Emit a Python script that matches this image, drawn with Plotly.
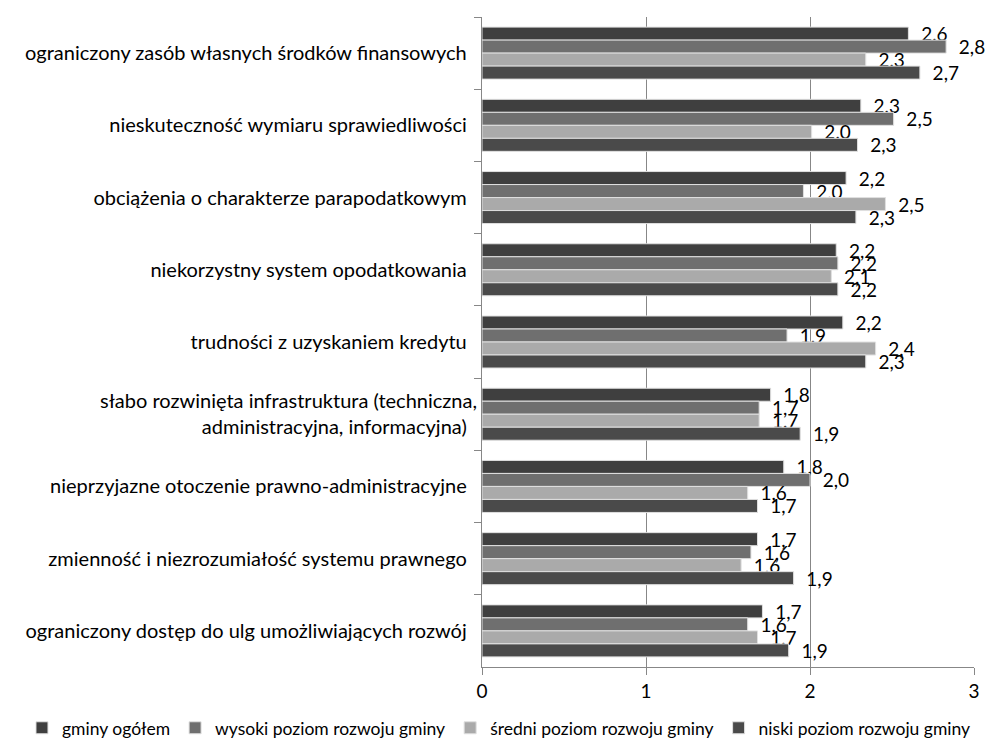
import plotly.graph_objects as go

categories = [
    "ograniczony zasób własnych środków finansowych",
    "nieskuteczność wymiaru sprawiedliwości",
    "obciążenia o charakterze parapodatkowym",
    "niekorzystny system opodatkowania",
    "trudności z uzyskaniem kredytu",
    "słabo rozwinięta infrastruktura (techniczna,<br>administracyjna, informacyjna)",
    "nieprzyjazne otoczenie prawno-administracyjne",
    "zmienność i niezrozumiałość systemu prawnego",
    "ograniczony dostęp do ulg umożliwiających rozwój",
]

series_names = [
    "gminy ogółem",
    "wysoki poziom rozwoju gminy",
    "średni poziom rozwoju gminy",
    "niski poziom rozwoju gminy",
]

ogolem = [2.60, 2.31, 2.22, 2.16, 2.20, 1.76, 1.84, 1.68, 1.71]
wysoki = [2.83, 2.51, 1.96, 2.17, 1.86, 1.69, 2.00, 1.64, 1.62]
sredni = [2.34, 2.01, 2.46, 2.13, 2.40, 1.69, 1.62, 1.58, 1.68]
niski = [2.67, 2.29, 2.28, 2.17, 2.34, 1.94, 1.68, 1.90, 1.87]

colors = ["#3f3f3f", "#6f6f6f", "#aaaaaa", "#4a4a4a"]

FONT = "Lato"

fig = go.Figure()
for name, vals, col in zip(series_names, [ogolem, wysoki, sredni, niski], colors):
    labels = ["\u00a0\u00a0" + f"{v:.1f}".replace(".", ",") for v in vals]
    fig.add_trace(go.Bar(
        y=categories, x=vals, name=name, orientation="h",
        marker=dict(color=col, line=dict(color="#e0e0e0", width=1)),
        text=labels, textposition="outside", constraintext="none",
        textfont=dict(family=FONT, size=19, color="black"),
        cliponaxis=False,
    ))

# plot area: 474..966 px wide, 9..674 px high
fig.update_layout(
    width=1000, height=747,
    margin=dict(l=474, r=34, t=9, b=73),
    plot_bgcolor="white", paper_bgcolor="white",
    barmode="group", bargap=0.28, bargroupgap=0,
    font=dict(family=FONT, size=19, color="black"),
    showlegend=True,
    legend=dict(orientation="h", x=-0.935, xanchor="left",
                y=-0.066, yanchor="top",
                font=dict(family=FONT, size=17.5), itemwidth=30, tracegroupgap=0),
    xaxis=dict(range=[0, 3], dtick=1, showgrid=True, gridcolor="#878787", gridwidth=1,
               showline=True, linecolor="#878787", ticks="outside", ticklen=7,
               tickcolor="#878787", zeroline=False, tickfont=dict(size=19),
               automargin=False),
    yaxis=dict(autorange="reversed", showline=True, linecolor="#878787", ticks="outside",
               tickson="boundaries", ticklen=7, tickcolor="#878787",
               tickfont=dict(size=20), ticksuffix="  ", automargin=False),
)

fig.write_html("out.html")
